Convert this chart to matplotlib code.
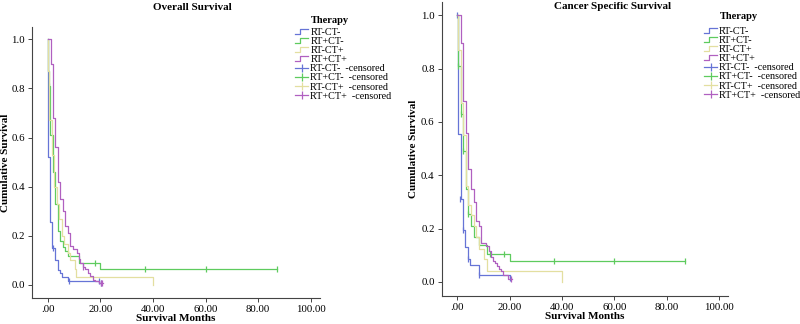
import matplotlib
matplotlib.use("Agg")
import matplotlib.pyplot as plt
from matplotlib.lines import Line2D
from matplotlib.legend_handler import HandlerBase
from matplotlib.ticker import FuncFormatter

plt.rcParams['font.family'] = ['Liberation Serif', 'DejaVu Serif']

groups = ["RT-CT-", "RT+CT-", "RT-CT+", "RT+CT+"]
colors = ['#6674d6', '#5ecb5e', '#e3dfa0', '#b060c0']

# Overall survival: step times / survival, censor times / survival
os_t = [
    [0, 0.1, 0.8, 1.6, 2.8, 3.8, 4.5, 5.3, 7.8, 19.5, 20.3],
    [0, 0.05, 0.3, 0.9, 1.9, 2.8, 3.8, 4.7, 5.7, 6.6, 7.6, 11.7, 19.7, 87],
    [0, 0.05, 0.6, 1.6, 2.5, 3.4, 4.4, 5.3, 6.3, 7.6, 8.5, 10.4, 10.9, 40],
    [0, 1.1, 1.9, 2.9, 3.8, 4.8, 5.7, 6.7, 7.6, 8.6, 9.5, 11.0, 11.7, 12.4,
     13.3, 14.3, 15.2, 16.2, 17.1, 18.1, 19.5, 21.0],
]
os_s = [
    [1.0, 0.52, 0.255, 0.15, 0.10, 0.06, 0.048, 0.033, 0.016, 0.008, 0.008],
    [1.0, 0.87, 0.81, 0.61, 0.46, 0.33, 0.22, 0.18, 0.155, 0.14, 0.12, 0.09, 0.066, 0.066],
    [1.0, 0.87, 0.67, 0.53, 0.40, 0.33, 0.27, 0.20, 0.165, 0.13, 0.10, 0.065, 0.033, 0.0],
    [1.0, 0.90, 0.68, 0.56, 0.42, 0.35, 0.30, 0.24, 0.21, 0.16, 0.145, 0.13, 0.105, 0.09,
     0.075, 0.065, 0.05, 0.035, 0.022, 0.015, 0.007, 0.007],
]
os_ct = [
    [1.9, 8.0, 19.5, 20.2],
    [0.4, 18.0, 37, 60, 87],
    [],
    [13.5, 20.3, 20.8],
]
os_cs = [
    [0.15, 0.016, 0.016, 0.008],
    [0.81, 0.09, 0.066, 0.066, 0.066],
    [],
    [0.075, 0.007, 0.007],
]

# Cancer specific survival
css_t = [
    [0, 0.2, 1.2, 2.0, 3.0, 4.0, 5.0, 8.2, 20.0, 20.6],
    [0, 0.1, 0.3, 1.2, 2.2, 3.2, 4.2, 5.2, 6.2, 8.2, 11.5, 20.0, 87],
    [0, 0.1, 1.2, 2.2, 3.2, 4.2, 5.2, 6.2, 7.2, 8.2, 10.2, 11.2, 40],
    [0, 1.2, 2.2, 3.2, 4.2, 5.2, 6.2, 7.2, 8.2, 9.2, 11.0, 12.0, 12.8, 13.6,
     14.4, 15.2, 16.0, 16.8, 17.6, 19.5, 21.0],
]
css_s = [
    [1.0, 0.555, 0.31, 0.195, 0.13, 0.085, 0.063, 0.025, 0.013, 0.013],
    [1.0, 0.865, 0.81, 0.63, 0.49, 0.35, 0.255, 0.21, 0.17, 0.14, 0.105, 0.078, 0.078],
    [1.0, 0.87, 0.67, 0.55, 0.36, 0.29, 0.25, 0.21, 0.17, 0.125, 0.085, 0.042, 0.0],
    [1.0, 0.895, 0.68, 0.56, 0.425, 0.35, 0.30, 0.23, 0.21, 0.145, 0.135, 0.115, 0.095,
     0.08, 0.07, 0.06, 0.05, 0.04, 0.025, 0.012, 0.012],
]
css_ct = [
    [0, 1.0, 2.2, 4.0, 8.2, 20.3],
    [0.3, 1.2, 2.2, 4.2, 12.5, 18.0, 37, 60, 87],
    [],
    [20.5],
]
css_cs = [
    [1.0, 0.31, 0.195, 0.085, 0.025, 0.013],
    [0.81, 0.63, 0.49, 0.255, 0.105, 0.105, 0.078, 0.078, 0.078],
    [],
    [0.012],
]


class StepHandler(HandlerBase):
    # small step symbol used by SPSS survival legends
    def create_artists(self, legend, orig, xd, yd, w, h, fs, trans):
        xs = [-xd, -xd + w * 0.35, -xd + w * 0.35, -xd + w]
        ys = [-yd + h * 0.15, -yd + h * 0.15, -yd + h * 0.85, -yd + h * 0.85]
        ln = Line2D(xs, ys, color=orig.get_color(), lw=0.9, transform=trans)
        return [ln]


def xfmt(v, pos):
    s = f"{v:.2f}"
    return s[1:] if s.startswith("0") else s


fig = plt.figure(figsize=(8, 3.24), dpi=100)
ax1 = fig.add_axes([0.04, 0.0802, 0.36, 0.8364])
ax2 = fig.add_axes([0.5521, 0.0864, 0.3579, 0.9074])

# axis, data, title pos, legend pos, legend title pos, ylabel x
panels = [(ax1, os_t, os_s, os_ct, os_cs, "Overall Survival", (0.241, 0.99),
           (0.369, 0.914), (0.4125, 0.938), -0.078),
          (ax2, css_t, css_s, css_ct, css_cs, "Cancer Specific Survival", (0.766, 0.995),
           (0.88, 0.917), (0.924, 0.948), -0.083)]

for ax, T, S, CT, CS, title, tpos, lpos, ltpos, ylx in panels:
    for i in range(4):
        ax.step(T[i], S[i], where='post', color=colors[i], lw=0.9)
        ax.plot(CT[i], CS[i], '|', color=colors[i], ms=4, mew=0.9)
    ax.set_xlim(-6, 103.5)
    ax.set_ylim(-0.053, 1.05)
    ax.set_xticks(range(0, 101, 20))
    ax.set_yticks([0, 0.2, 0.4, 0.6, 0.8, 1.0])
    ax.xaxis.set_major_formatter(FuncFormatter(xfmt))
    ax.yaxis.set_major_formatter(FuncFormatter(lambda v, p: f"{v:.1f}"))
    ax.tick_params(labelsize=7.8, length=3, width=0.7, color='#444444', pad=2)
    for sp in ['top', 'right']:
        ax.spines[sp].set_visible(False)
    for sp in ['left', 'bottom']:
        ax.spines[sp].set_color('#444444')
        ax.spines[sp].set_linewidth(0.8)
    ax.set_xlabel("Survival Months", fontsize=8, fontweight='bold', labelpad=0)
    ax.set_ylabel("Cumulative Survival", fontsize=8, fontweight='bold')
    ax.yaxis.set_label_coords(ylx, 0.5)
    fig.text(tpos[0], tpos[1], title, ha='center', va='top', fontsize=8, fontweight='bold')

    handles = [Line2D([], [], color=c) for c in colors]
    handles += [Line2D([0, 1], [0, 0], color=c, lw=0.9, marker='|', ms=6, mew=0.9) for c in colors]
    labels = groups + [g + "  -censored" for g in groups]
    hmap = {h: StepHandler() for h in handles[:4]}
    fig.legend(handles, labels, loc='upper left', bbox_to_anchor=lpos,
               frameon=False, fontsize=7.3,
               handlelength=1.3, handletextpad=0.2, labelspacing=0.0,
               borderpad=0, borderaxespad=0, handler_map=hmap)
    fig.text(ltpos[0], ltpos[1], "Therapy", ha='center', va='center',
             fontsize=7.5, fontweight='bold')

fig.savefig("out.png", dpi=100)
